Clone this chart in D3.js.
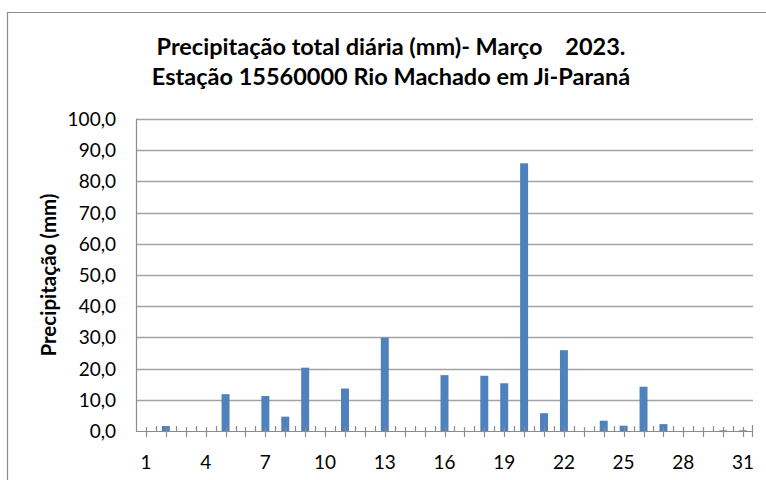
<!DOCTYPE html>
<html>
<head>
<meta charset="utf-8">
<script src="https://cdn.jsdelivr.net/npm/d3@7"></script>
<style>
  html, body { margin: 0; padding: 0; background: #fff; }
  svg { display: block; }
  text { font-family: Lato, "Open Sans", sans-serif; fill: #000; }
</style>
</head>
<body>
<svg id="chart" width="766" height="480"></svg>
<script>
// ---- data ----
const days = d3.range(1, 32);
const precip = [0, 1.6, 0, 0, 11.8, 0, 11.2, 4.6, 20.3, 0, 13.6, 0, 29.9, 0, 0, 17.9, 0, 17.7, 15.3, 85.8, 5.7, 25.9, 0, 3.3, 1.7, 14.2, 2.2, 0, 0, 0.2, 0.2];
const yTicks = [0, 10, 20, 30, 40, 50, 60, 70, 80, 90, 100];
const xLabels = [1, 4, 7, 10, 13, 16, 19, 22, 25, 28, 31];
const titleLines = ["Precipitação total diária (mm)- Março    2023.", "Estação 15560000 Rio Machado em Ji-Paraná"];
const yTitle = "Precipitação (mm)";

const svg = d3.select("#chart");

// outer frame
svg.append("path")
  .attr("d", "M7.5,490 V12.5 H780")
  .attr("fill", "none").attr("stroke", "#8c8c8c").attr("stroke-width", 1.2);

const L = 136, R = 753, T = 119, B = 431;

const x = d3.scaleBand().domain(days).range([L, R]).paddingInner(0.6).paddingOuter(0.3);
const y = d3.scaleLinear().domain([0, 100]).range([B, T]);

// gridlines
svg.append("g").selectAll("line").data(yTicks.filter(d => d > 0)).join("line")
  .attr("x1", L).attr("x2", R)
  .attr("y1", d => Math.round(y(d)) + 0.5).attr("y2", d => Math.round(y(d)) + 0.5)
  .attr("stroke", "#a3a3a3").attr("stroke-width", 1.4);

// y axis line
svg.append("line").attr("x1", L + 0.5).attr("x2", L + 0.5).attr("y1", T).attr("y2", B)
  .attr("stroke", "#8c8c8c").attr("stroke-width", 1.2);

// y tick labels
svg.append("g").selectAll("text").data(yTicks).join("text")
  .attr("x", 116).attr("y", d => y(d) + 7)
  .attr("text-anchor", "end").attr("font-size", 19)
  .text(d => d3.format(".1f")(d).replace(".", ","));

// bars
svg.append("g").selectAll("rect").data(days).join("rect")
  .attr("x", d => x(d)).attr("width", x.bandwidth())
  .attr("y", (d, i) => y(precip[i])).attr("height", (d, i) => B - y(precip[i]))
  .attr("fill", "#4f81bd");

// x axis line and ticks
svg.append("line").attr("x1", L).attr("x2", R).attr("y1", B + 0.5).attr("y2", B + 0.5)
  .attr("stroke", "#8c8c8c").attr("stroke-width", 1.2);
const step = x.step();
const centers = days.map(d => x(d) + x.bandwidth() / 2);
svg.append("g").selectAll("line").data(centers).join("line")
  .attr("x1", d => Math.round(d) + 0.5).attr("x2", d => Math.round(d) + 0.5)
  .attr("y1", B - 4).attr("y2", B + 6)
  .attr("stroke", "#8c8c8c").attr("stroke-width", 1.2);
const bounds = d3.range(1, 31).map(i => L + i * step);
svg.append("g").selectAll("line").data(bounds).join("line")
  .attr("x1", d => Math.round(d) + 0.5).attr("x2", d => Math.round(d) + 0.5)
  .attr("y1", B - 5).attr("y2", B)
  .attr("stroke", "#8c8c8c").attr("stroke-width", 1.2);
svg.append("line").attr("x1", R - 0.5).attr("x2", R - 0.5).attr("y1", B - 6).attr("y2", B + 6)
  .attr("stroke", "#8c8c8c").attr("stroke-width", 1.2);

// x labels
svg.append("g").selectAll("text").data(xLabels).join("text")
  .attr("x", d => x(d) + x.bandwidth() / 2).attr("y", 469)
  .attr("text-anchor", "middle").attr("font-size", 19)
  .text(d => d);

// title
svg.append("g").selectAll("text").data(titleLines).join("text")
  .attr("x", 391).attr("y", (d, i) => 55 + i * 30)
  .attr("text-anchor", "middle").attr("font-size", 23.5).attr("font-weight", "bold")
  .attr("xml:space", "preserve").style("white-space", "pre")
  .text(d => d);

// y title
svg.append("text")
  .attr("transform", "translate(56,275) rotate(-90)")
  .attr("text-anchor", "middle").attr("font-size", 20.5).attr("font-weight", "bold")
  .text(yTitle);
</script>
</body>
</html>
